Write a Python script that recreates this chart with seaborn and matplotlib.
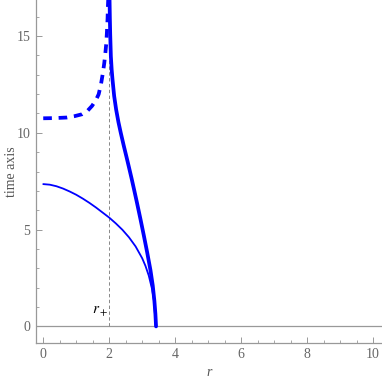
import matplotlib
matplotlib.use('agg')
import matplotlib.pyplot as plt
import seaborn as sns
from matplotlib.ticker import MultipleLocator

# proper time of the surface (thin curve)
tau_r = [0.0, 0.2, 0.4, 0.6, 0.8, 1.0, 1.2, 1.4, 1.6, 1.8, 2.0,
         2.2, 2.4, 2.6, 2.8, 3.0, 3.1, 3.2, 3.3, 3.36, 3.41]
tau_t = [7.35, 7.32, 7.24, 7.12, 6.97, 6.80, 6.60, 6.38, 6.14, 5.88, 5.62,
         5.32, 4.99, 4.60, 4.13, 3.52, 3.12, 2.62, 1.92, 1.30, 0.0]

# coordinate time outside horizon (thick solid)
t_out_r = [2.01, 2.02, 2.03, 2.05, 2.075, 2.10, 2.15, 2.21, 2.28, 2.35, 2.44, 2.53,
           2.60, 2.68, 2.76, 2.84, 2.95, 3.05, 3.15, 3.25, 3.32, 3.37, 3.40, 3.42]
t_out_t = [16.9, 15.9, 15.1, 13.95, 13.25, 12.75, 11.9, 11.2, 10.55, 10.0, 9.34, 8.71,
           8.21, 7.63, 7.02, 6.40, 5.52, 4.69, 3.83, 2.91, 2.11, 1.31, 0.65, 0.0]

# coordinate time inside horizon (thick dashed)
t_in_r = [0.0, 0.35, 0.72, 0.95, 1.18, 1.35, 1.48, 1.60, 1.68, 1.75, 1.81,
          1.85, 1.88, 1.91, 1.93, 1.95, 1.96, 1.97]
t_in_t = [10.75, 10.76, 10.79, 10.86, 10.96, 11.15, 11.39, 11.70, 11.99, 12.50, 13.11,
          13.60, 14.06, 14.60, 15.18, 15.90, 16.50, 16.90]

r_plus = 2.0
x_ticks = [0, 2, 4, 6, 8, 10]
y_ticks = [0, 5, 10, 15]

sns.set_style('white')
plt.rcParams['font.family'] = ['Liberation Serif', 'DejaVu Serif']
plt.rcParams['mathtext.fontset'] = 'stix'

fig = plt.figure(figsize=(3.82, 3.82), dpi=100)
ax = fig.add_axes([0.0942, 0.103, 0.9058, 0.897])

grey = '#999999'
ax.axhline(0, color=grey, lw=0.9, zorder=1)
ax.vlines(r_plus, 0, 18, colors='#888888', linestyles=(0, (3.5, 2.5)), lw=0.7, zorder=1)

sns.lineplot(x=tau_r, y=tau_t, sort=False, estimator=None, color='#0000ff', lw=1.3, ax=ax)
sns.lineplot(x=t_out_r, y=t_out_t, sort=False, estimator=None, color='#0000ff', lw=2.7, ax=ax)
line = sns.lineplot(x=t_in_r, y=t_in_t, sort=False, estimator=None, color='#0000ff', lw=2.7, ax=ax).lines[-1]
line.set_dashes((2.3, 1.8))
line.set_dash_capstyle('butt')

ax.text(1.72, 0.75, r'$r_+$', fontsize=11, ha='center', va='center', color='black')

ax.set_xlim(-0.22, 10.27)
ax.set_ylim(-0.84, 16.86)
ax.set_xticks(x_ticks)
ax.set_yticks(y_ticks)
ax.xaxis.set_minor_locator(MultipleLocator(0.5))
ax.yaxis.set_minor_locator(MultipleLocator(1))
ax.tick_params(which='major', direction='in', length=4, width=0.7, color=grey,
               labelsize=10, labelcolor='#666666', pad=4)
ax.tick_params(which='minor', direction='in', length=2.2, width=0.6, color=grey)
ax.tick_params(axis='x', which='both', bottom=True)
ax.tick_params(axis='y', which='both', left=True)

for side in ['top', 'right']:
    ax.spines[side].set_visible(False)
for side in ['left', 'bottom']:
    ax.spines[side].set_color(grey)
    ax.spines[side].set_linewidth(0.9)

ax.set_xlabel('r', fontsize=10, style='italic', color='#555555', va='center')
ax.xaxis.set_label_coords(0.5, -0.088)
ax.set_ylabel('time axis', fontsize=10, color='#555555', va='center')
ax.yaxis.set_label_coords(-0.072, 0.5)

fig.savefig('out.png', dpi=100)
